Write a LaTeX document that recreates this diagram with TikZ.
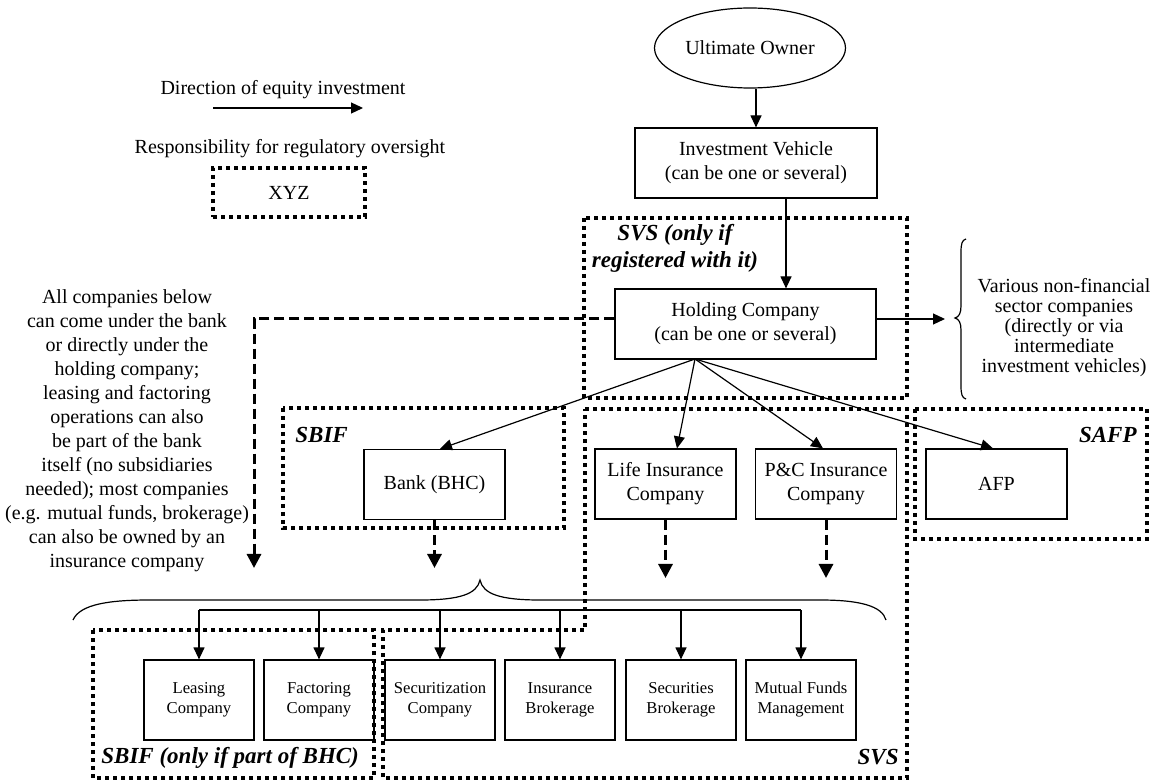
\documentclass[tikz,border=0pt]{standalone}
\usepackage{fontspec}
\setmainfont{Liberation Serif}
\usetikzlibrary{arrows.meta,shapes.geometric}

\begin{document}
\begin{tikzpicture}[x=0.5pt,y=-0.5pt,
  box/.style={draw,line width=0.6pt,align=center,inner sep=0pt},
  firm/.style={box,minimum width=70.5pt,minimum height=35pt},
  unit/.style={box,minimum width=55pt,minimum height=40pt,font=\fontsize{8.3}{10}\selectfont},
  own/.style={line width=0.6pt,-{Triangle[length=6pt,width=5.5pt]}},
  maybe/.style={line width=1.5pt,dash pattern=on 5pt off 2.5pt,-{Triangle[length=7pt,width=7pt]}},
  regbox/.style={line width=2pt,dash pattern=on 2pt off 2pt},
  reglabel/.style={font=\fontsize{11.5}{13.5}\selectfont\bfseries\itshape,inner sep=0pt}]
  \useasboundingbox (0,0) rectangle (1157,780);
  % legend
  \node (dirtext) at (283,90) {Direction of equity investment};
  \coordinate (legA) at (213,108);
  \coordinate (legB) at (363,108);
  \draw[own] (legA) -- (legB);
  \node (regtext) at (290,149) {Responsibility for regulatory oversight};
  \node[regbox,draw,minimum width=76pt,minimum height=24.5pt] (xyz) at (289,192.5) {XYZ};
  % owner, vehicle, holding
  \node[draw,ellipse,line width=0.6pt,minimum width=95.5pt,minimum height=40pt,inner sep=0pt] (owner) at (750,48) {Ultimate Owner};
  \node[box,minimum width=121pt,minimum height=35pt] (vehicle) at (756,163) {Investment Vehicle\\(can be one or several)};
  \node[box,minimum width=130.5pt,minimum height=35pt] (holding) at (745.5,324) {Holding Company\\(can be one or several)};
  \draw[own] (vehicle.north |- owner.south) -- (vehicle.north);
  \draw[own] ([xshift=15pt]vehicle.south) -- ([xshift=15pt]vehicle.south |- holding.north);
  % non-financial side
  \coordinate (nonfin) at (945,319);
  \draw[own] ([yshift=2.5pt]holding.east) -- (nonfin);
  \draw[line width=0.6pt] (966,239) .. controls (962,240) and (961,244) .. (961,252) -- (961,306)
    .. controls (961,313) and (959,317) .. (955,318) .. controls (959,319) and (961,323) .. (961,330)
    -- (961,386) .. controls (961,394) and (962,398) .. (966,399);
  \node[align=center,font=\fontsize{10}{10}\selectfont] (nonfintext) at (1064,328) {Various non-financial\\sector companies\\(directly or via\\intermediate\\investment vehicles)};
  % regulated firms
  \node[firm] (bank) at (434.5,484.5) {Bank (BHC)};
  \node[firm] (life) at (665.5,484) {Life Insurance\\Company};
  \node[firm] (pc) at (826,484) {P\&C Insurance\\Company};
  \node[firm] (afp) at (996.5,484) {AFP};
  \coordinate (fan) at (695,359);
  \draw[own] (fan) -- ([xshift=2.75pt]bank.north);
  \draw[own] (fan) -- ([xshift=5.75pt]life.north);
  \draw[own] (fan) -- ([xshift=-1.5pt]pc.north);
  \draw[own] (fan) -- ([xshift=-1.75pt]afp.north);
  % left note and optional ownership
  \node[align=center] (note) at (127,431) {All companies below\\can come under the bank\\or directly under the\\holding company;\\leasing and factoring\\operations can also\\be part of the bank\\itself (no subsidiaries\\needed); most companies\\(e.g. mutual funds, brokerage)\\can also be owned by an\\insurance company};
  \coordinate (sidetip) at (254,568);
  \coordinate (instip) at (0,578);
  \draw[maybe] ([yshift=2.5pt]holding.west) -| (sidetip);
  \draw[maybe] (bank.south) -- (bank.south |- sidetip);
  \draw[maybe] (life.south) -- (life.south |- instip);
  \draw[maybe] (pc.south) -- (pc.south |- instip);
  % brace over subsidiaries
  \draw[line width=0.6pt] (73,620) .. controls (80,604) and (110,600) .. (150,600) -- (420,600)
    .. controls (460,600) and (477,594) .. (480,580) .. controls (483,594) and (500,600) .. (540,600)
    -- (820,600) .. controls (860,600) and (882,606) .. (886,620);
  % subsidiaries
  \node[unit] (leasing) at (199,700) {Leasing\\Company};
  \node[unit] (factoring) at (319,700) {Factoring\\Company};
  \node[unit] (securit) at (440,700) {Securitization\\Company};
  \node[unit] (insbrok) at (560,700) {Insurance\\Brokerage};
  \node[unit] (secbrok) at (681,700) {Securities\\Brokerage};
  \node[unit] (mutual) at (801,700) {Mutual Funds\\Management};
  \coordinate (bus) at (0,610);
  \draw[line width=0.6pt] (leasing.north |- bus) -- (mutual.north |- bus);
  \foreach \u in {leasing,factoring,securit,insbrok,secbrok,mutual}
    \draw[own] (\u.north |- bus) -- (\u.north);
  % regulators
  \draw[regbox] (584,218) rectangle (907,398);
  \node[reglabel,align=center] (svstop) at (675,248) {SVS (only if\\registered with it)};
  \draw[regbox] (283,408) rectangle (564,528);
  \node[reglabel,anchor=west] (sbiftop) at (295,435) {SBIF};
  \draw[regbox] (915,409) rectangle (1147,539);
  \node[reglabel,anchor=east] (safp) at (1137,435) {SAFP};
  \draw[regbox] (93,630) rectangle (374,778);
  \node[reglabel,anchor=west] (sbifbot) at (101,758) {SBIF (only if part of BHC)};
  \draw[regbox] (585,409) -- (907,409) -- (907,778) -- (383,778) -- (383,630) -- (585,630) -- cycle;
  \node[reglabel,anchor=east] (svsbot) at (899,757) {SVS};
\end{tikzpicture}
\end{document}
